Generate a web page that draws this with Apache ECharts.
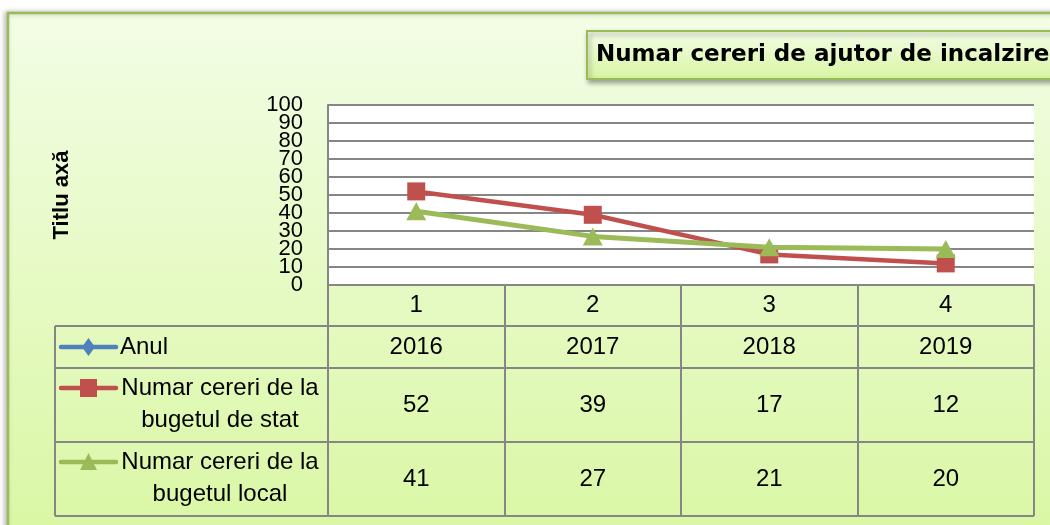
<!DOCTYPE html>
<html><head><meta charset="utf-8">
<script src="https://cdn.jsdelivr.net/npm/echarts@6/dist/echarts.min.js"></script>
<style>html,body{margin:0;padding:0;background:#fff}#c{width:1050px;height:525px}</style>
</head><body><div id="c"></div>
<script>
// ---- data ----
const titleText = 'Numar cereri de ajutor de incalzire';
const axisTitle = 'Titlu axă';
const categories = ['1', '2', '3', '4'];
const yMin = 0, yMax = 100, yStep = 10;
const rowLabels = ['Anul', 'Numar cereri de la\nbugetul de stat', 'Numar cereri de la\nbugetul local'];
const years = [2016, 2017, 2018, 2019];
const stateBudget = [52, 39, 17, 12];
const localBudget = [41, 27, 21, 20];

// ---- layout / style ----
const G = { left: 328, top: 105, width: 706, height: 180 };
const axisY = G.top + G.height;              // 285
const rowEdges = [axisY, 326, 368, 442, 516]; // table row boundaries
const tableLeft = 55;
const tableRight = G.left + G.width;
const gridGray = '#868686';
const RED = '#c0504d', GREEN = '#9bbb59', BLUE = '#4f81bd';
const FONT = 'Liberation Sans';
const cellFont = 24;

const rowCenter = i => (rowEdges[i] + rowEdges[i + 1]) / 2;

function valueAxis(data, rowIndex) {
  return {
    type: 'category', data: data.map(String), gridIndex: 0, position: 'bottom',
    boundaryGap: true,
    offset: rowCenter(rowIndex) - cellFont / 2 - axisY,
    axisLine: { show: false }, axisTick: { show: false }, splitLine: { show: false },
    axisLabel: { interval: 0, margin: 0, color: '#000', fontFamily: FONT, fontSize: cellFont, lineHeight: cellFont }
  };
}

const chart = echarts.init(document.getElementById('c'));

const headerIcons = [
  { color: BLUE, y: rowCenter(1), marker: 'diamond' },
  { color: RED, y: 388, marker: 'square' },
  { color: GREEN, y: 462, marker: 'triangle' }
];
const graphics = [];
// outer chart area
graphics.push({
  type: 'rect', z: -10, silent: true,
  shape: { x: 8, y: 13, width: 1100, height: 530 },
  style: {
    fill: { type: 'linear', x: 0, y: 0, x2: 0, y2: 1, colorStops: [
      { offset: 0, color: '#f3fde6' }, { offset: 1, color: '#d9f7a3' }] },
    stroke: GREEN, lineWidth: 2.5,
    shadowBlur: 5, shadowColor: 'rgba(0,0,0,0.25)', shadowOffsetX: -2, shadowOffsetY: 0
  }
});
// table horizontal lines
for (let i = 1; i < rowEdges.length; i++) {
  graphics.push({ type: 'line', z: 5, silent: true,
    shape: { x1: tableLeft, y1: rowEdges[i], x2: tableRight, y2: rowEdges[i] },
    style: { stroke: gridGray, lineWidth: 2 } });
}
graphics.push({ type: 'line', z: 5, silent: true,
  shape: { x1: tableLeft, y1: rowEdges[1], x2: tableLeft, y2: rowEdges[4] },
  style: { stroke: gridGray, lineWidth: 2 } });
// header icons
headerIcons.forEach(ic => {
  const cx = 88.5, y = ic.y;
  graphics.push({ type: 'line', z: 6, silent: true,
    shape: { x1: 61, y1: y, x2: 116, y2: y },
    style: { stroke: ic.color, lineWidth: 4.5, lineCap: 'round' } });
  let pts;
  if (ic.marker === 'diamond') pts = [[cx, y - 9], [cx + 6.5, y], [cx, y + 9], [cx - 6.5, y]];
  else if (ic.marker === 'square') pts = [[cx - 8.5, y - 9], [cx + 8.5, y - 9], [cx + 8.5, y + 9], [cx - 8.5, y + 9]];
  else pts = [[cx, y - 9], [cx + 8.5, y + 8], [cx - 8.5, y + 8]];
  graphics.push({ type: 'polygon', z: 7, silent: true, shape: { points: pts }, style: { fill: ic.color } });
});
// header texts
graphics.push({ type: 'text', z: 7, silent: true, x: 120, y: rowCenter(1),
  style: { text: rowLabels[0], font: cellFont + 'px "' + FONT + '"', fill: '#000', align: 'left', verticalAlign: 'middle' } });
[2, 3].forEach((r, k) => {
  graphics.push({ type: 'text', z: 7, silent: true, x: 220, y: rowCenter(r) - 1,
    style: { text: rowLabels[k + 1], font: cellFont + 'px "' + FONT + '"', fill: '#000', align: 'center', verticalAlign: 'middle', lineHeight: 32 } });
});

const yLabelStyle = { margin: 25, color: '#000', fontFamily: FONT, fontSize: 22, lineHeight: 18 };

chart.setOption({
  animation: false,
  backgroundColor: '#ffffff',
  title: {
    text: titleText, left: 587, top: 31,
    padding: [11, 120, 11, 9],
    backgroundColor: { type: 'linear', x: 0, y: 0, x2: 0, y2: 1, colorStops: [
      { offset: 0, color: '#f4fde8' }, { offset: 1, color: '#d8f5a2' }] },
    borderColor: GREEN, borderWidth: 2,
    shadowBlur: 5, shadowColor: 'rgba(0,0,0,0.35)', shadowOffsetX: 2, shadowOffsetY: 3,
    textStyle: { fontFamily: 'DejaVu Sans', fontWeight: 'bold', fontSize: 23, lineHeight: 26, color: '#000' }
  },
  graphic: graphics,
  grid: { left: G.left, top: G.top, width: G.width, height: G.height, show: true,
    backgroundColor: '#ffffff', borderWidth: 0, containLabel: false },
  xAxis: [
    {
      type: 'category', data: categories, boundaryGap: true, position: 'bottom',
      axisLine: { show: true, lineStyle: { color: gridGray, width: 2 } },
      axisTick: { show: true, length: rowEdges[4] - axisY, lineStyle: { color: gridGray, width: 2 } },
      axisLabel: { interval: 0, margin: 8, color: '#000', fontFamily: FONT, fontSize: cellFont, lineHeight: cellFont },
      splitLine: { show: false }
    },
    valueAxis(years, 1),
    valueAxis(stateBudget, 2),
    valueAxis(localBudget, 3)
  ],
  yAxis: [
    { // even tick labels (0, 20, ... 100) + axis title
      type: 'value', position: 'left', min: yMin, max: yMax, interval: yStep * 2,
      name: axisTitle, nameLocation: 'middle', nameRotate: 90, nameGap: 255,
      nameTextStyle: { fontFamily: FONT, fontWeight: 'bold', fontSize: 22, color: '#000' },
      axisLine: { show: true, lineStyle: { color: gridGray, width: 2 } },
      axisTick: { show: false },
      axisLabel: yLabelStyle,
      splitLine: { show: false }
    },
    { // odd tick labels (10, 30, ... 90) + every gridline
      type: 'value', position: 'left', min: yMin, max: yMax, interval: yStep,
      axisLine: { show: false }, axisTick: { show: false },
      axisLabel: Object.assign({}, yLabelStyle, {
        formatter: v => ((v - yMin) / yStep) % 2 === 1 ? String(v) : '' }),
      splitLine: { show: true, lineStyle: { color: gridGray, width: 2 } }
    }
  ],
  series: [
    { name: rowLabels[1], type: 'line', xAxisIndex: 0, yAxisIndex: 0, data: stateBudget,
      symbol: 'rect', symbolSize: 18, lineStyle: { color: RED, width: 4.5 },
      itemStyle: { color: RED }, z: 3 },
    { name: rowLabels[2], type: 'line', xAxisIndex: 0, yAxisIndex: 0, data: localBudget,
      symbol: 'triangle', symbolSize: [20, 18], lineStyle: { color: GREEN, width: 5 },
      itemStyle: { color: GREEN }, z: 4 }
  ]
});
</script></body></html>
